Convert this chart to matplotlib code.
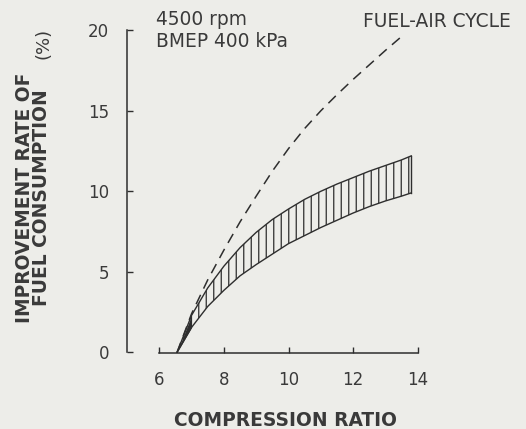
import matplotlib
matplotlib.use("Agg")
import matplotlib.pyplot as plt

# Fuel-air cycle (theoretical) improvement, %
cycle_x = [6.55, 7.0, 7.5, 8.0, 8.5, 9.0, 9.5, 10.0, 10.5, 11.0, 11.5, 12.0, 12.5, 13.0, 13.55]
cycle_y = [0.0, 2.4, 4.5, 6.35, 8.1, 9.7, 11.25, 12.65, 13.9, 15.0, 16.0, 16.95, 17.85, 18.75, 19.7]

# Measured band (upper / lower bounds), %
band_x = [6.55, 7.0, 7.5, 8.0, 8.5, 9.0, 9.5, 10.0, 10.5, 11.0, 11.5, 12.0, 12.5, 13.0, 13.5, 13.8]
band_upper = [0.0, 2.3, 4.0, 5.35, 6.5, 7.45, 8.25, 8.9, 9.5, 10.0, 10.45, 10.85, 11.25, 11.6, 11.95, 12.2]
band_lower = [0.0, 1.55, 2.85, 3.85, 4.75, 5.45, 6.1, 6.75, 7.25, 7.75, 8.2, 8.65, 9.05, 9.4, 9.7, 9.9]

x_ticks = [6, 8, 10, 12, 14]
y_ticks = [0, 5, 10, 15, 20]

W, H = 526, 429
DPI = 90
K = 100 / DPI          # keeps sizes in "points at 100 dpi"
BG = "#edede9"
INK = "#2e2e2e"
TXT = "#3a3a3a"

plt.rcParams["font.family"] = ["DejaVu Sans"]
plt.rcParams["hatch.linewidth"] = 0.9 * K

fig = plt.figure(figsize=(W / DPI, H / DPI), dpi=DPI, facecolor=BG)

# axes box in pixels: data x=5 at px 127, 32.3 px per unit; y=0 at px 352, 16.1 px per unit
x0_px, x_scale = 127.0, 32.3
y0_px, y_scale = 352.3, 16.1
xlim = (5.0, 14.3)
ylim = (-0.05, 20.6)
left = x0_px / W
width = (xlim[1] - xlim[0]) * x_scale / W
bottom = (H - (y0_px + (0 - ylim[0]) * y_scale)) / H
height = (ylim[1] - ylim[0]) * y_scale / H
ax = fig.add_axes([left, bottom, width, height])
ax.set_facecolor("none")
ax.set_xlim(*xlim)
ax.set_ylim(*ylim)

# hatched band between the bounds
ax.fill_between(band_x, band_lower, band_upper, facecolor="none",
                edgecolor=INK, hatch="||", linewidth=0)
ax.fill_between(band_x[:2], band_lower[:2], band_upper[:2], color=INK, linewidth=0)
ax.plot(band_x, band_upper, color=INK, lw=1.0 * K)
ax.plot(band_x, band_lower, color=INK, lw=1.0 * K)
ax.plot([band_x[-1], band_x[-1]], [band_lower[-1], band_upper[-1]], color=INK, lw=1.0 * K)

# fuel-air cycle curve
ax.plot(cycle_x, cycle_y, color=INK, lw=1.1 * K, dashes=(6.8, 4.5))

for s in ("top", "right"):
    ax.spines[s].set_visible(False)
ax.spines["left"].set_bounds(0, 20)
ax.spines["bottom"].set_bounds(6, 14)
for s in ("left", "bottom"):
    ax.spines[s].set_color(INK)
    ax.spines[s].set_linewidth(1.1 * K)

ax.set_xticks(x_ticks)
ax.set_yticks(y_ticks)
ax.tick_params(axis="both", direction="in", length=4 * K, width=1.0 * K, color=INK,
               labelsize=12 * K, labelcolor=TXT)
ax.tick_params(axis="x", pad=13 * K)
ax.tick_params(axis="y", pad=13 * K)


def fx(px):
    return px / W


def fy(py):
    return 1 - py / H


fig.text(fx(33), fy(198), "IMPROVEMENT RATE OF\nFUEL CONSUMPTION", rotation=90,
         ha="center", va="center", multialignment="center", linespacing=0.93,
         fontsize=13.4 * K, fontweight="bold", color=TXT)
fig.text(fx(43), fy(43), "(%)", rotation=90, ha="center", va="center",
         fontsize=13 * K, color=TXT)
fig.text(fx(286), fy(421), "COMPRESSION RATIO", ha="center", va="center",
         fontsize=13.4 * K, fontweight="bold", color=TXT)

fig.text(fx(156), fy(25), "4500 rpm", ha="left", va="baseline", fontsize=13.4 * K, color=TXT)
fig.text(fx(156), fy(47), "BMEP 400 kPa", ha="left", va="baseline", fontsize=13.4 * K, color=TXT)
fig.text(fx(511), fy(27), "FUEL-AIR CYCLE", ha="right", va="baseline", fontsize=13.4 * K, color=TXT)

fig.savefig("out.png", dpi=DPI, facecolor=BG)
